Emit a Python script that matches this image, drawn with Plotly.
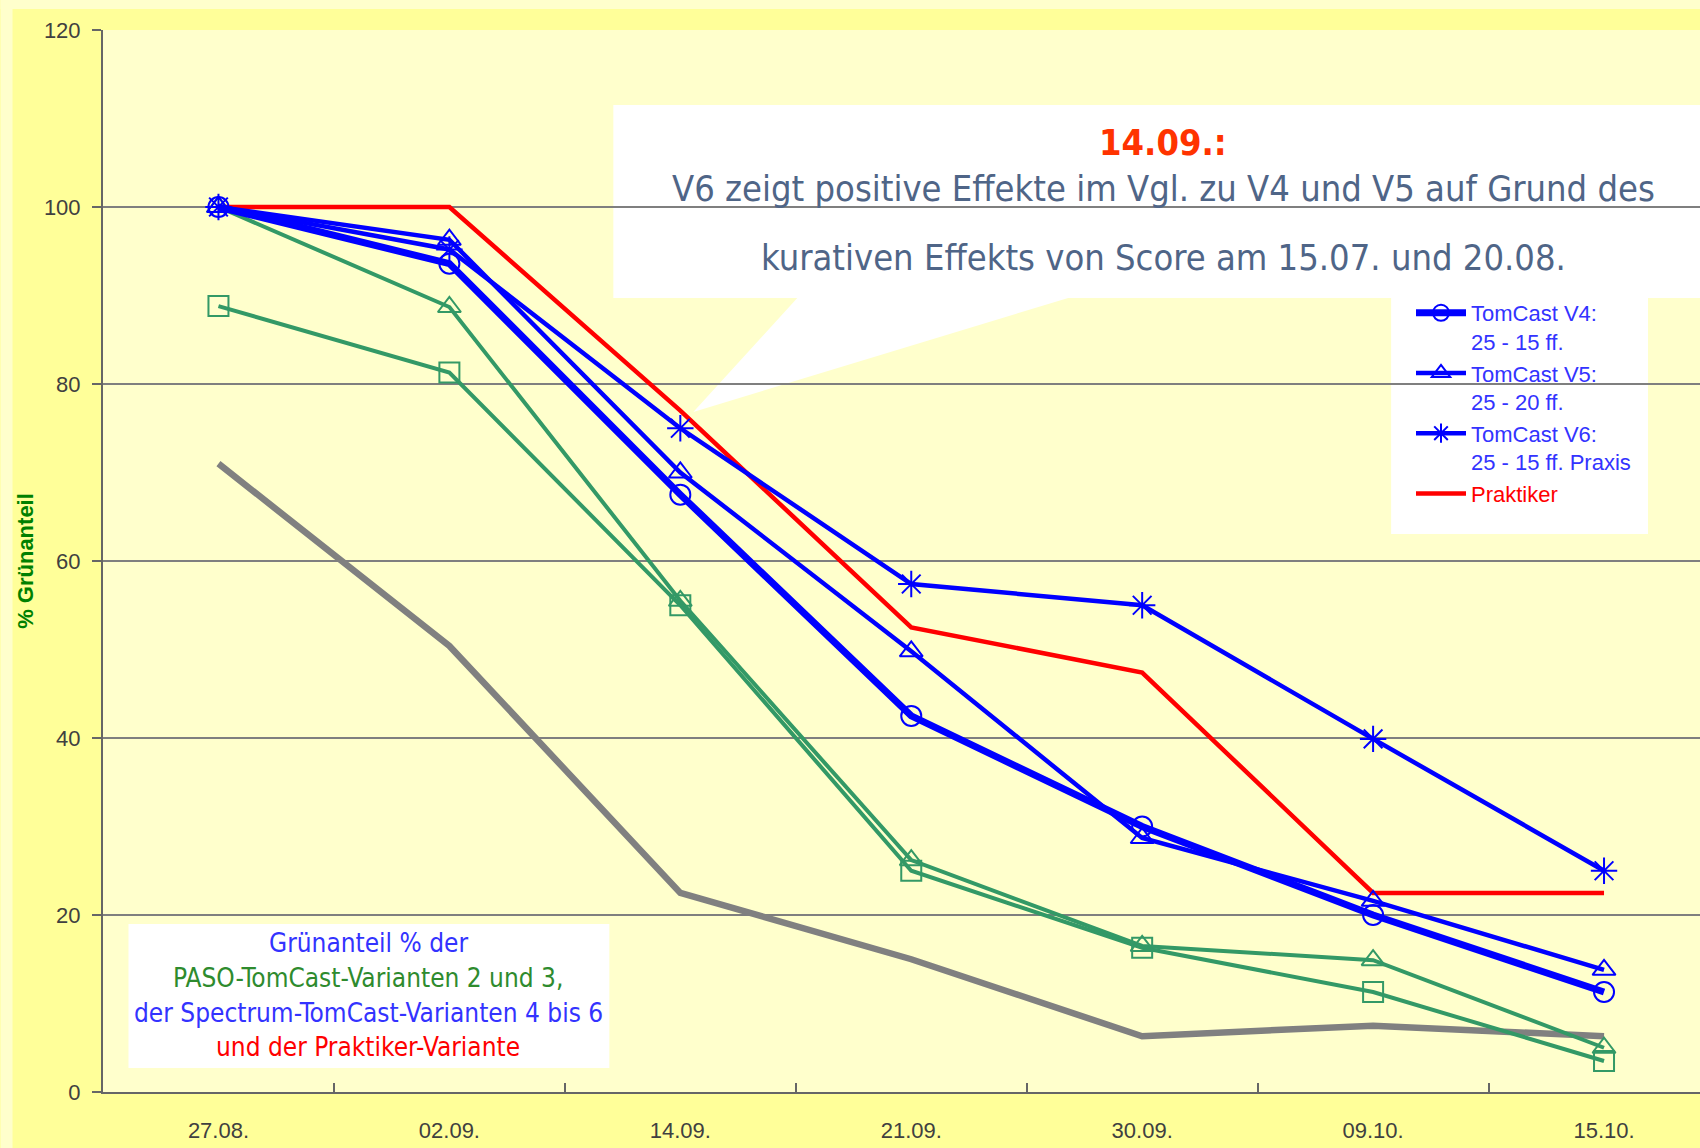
import plotly.graph_objects as go

# ---------------- data ----------------
categories = ["27.08.", "02.09.", "14.09.", "21.09.", "30.09.", "09.10.", "15.10."]
tomcast_v4 = [100, 93.6, 67.5, 42.5, 30.0, 20.0, 11.3]
tomcast_v5 = [100, 96.3, 70.0, 49.8, 28.7, 21.6, 13.8]
tomcast_v6 = [100, 95.2, 75.0, 57.4, 55.0, 39.9, 25.0]
praktiker = [100, 100, 77.0, 52.5, 47.4, 22.5, 22.5]
paso_v2 = [100, 88.7, 55.5, 26.2, 16.5, 14.9, 5.0]
paso_v3 = [88.8, 81.3, 55.0, 25.0, 16.3, 11.3, 3.5]
untreated = [71.0, 50.4, 22.5, 15.0, 6.3, 7.5, 6.3]

y_ticks = [0, 20, 40, 60, 80, 100, 120]

# ---------------- layout geometry (pixels) ----------------
W, H = 1700, 1148
L, T, B = 102.5, 30, 1092
R = W
band = 231.0

def px(x):
    return (x - L) / (R - L)

def py(y):
    return (B - y) / (B - T)

BLUE = "#0000FF"
RED = "#FF0000"
GREEN = "#339966"
GRAY = "#808080"
TICKFONT = "Liberation Sans Narrow, Arial Narrow, Liberation Sans, Arial, sans-serif"
COND = "DejaVu Sans Condensed, DejaVu Sans, sans-serif"

fig = go.Figure()

fig.add_trace(go.Scatter(x=categories, y=untreated, mode="lines",
                         line=dict(color=GRAY, width=6.5), showlegend=False))
fig.add_trace(go.Scatter(x=categories, y=paso_v3, mode="lines+markers",
                         line=dict(color=GREEN, width=4),
                         marker=dict(symbol="square-open", size=20, color=GREEN, line=dict(width=2)),
                         showlegend=False))
fig.add_trace(go.Scatter(x=categories, y=paso_v2, mode="lines+markers",
                         line=dict(color=GREEN, width=4),
                         marker=dict(symbol="triangle-up-open", size=20, color=GREEN, line=dict(width=2)),
                         showlegend=False))
fig.add_trace(go.Scatter(x=categories, y=praktiker, mode="lines",
                         line=dict(color=RED, width=4.5),
                         name="<span style='color:#FF0000'>Praktiker</span>"))
fig.add_trace(go.Scatter(x=categories, y=tomcast_v6, mode="lines+markers",
                         line=dict(color=BLUE, width=4.5),
                         marker=dict(symbol="asterisk-open", size=22, color=BLUE, line=dict(width=2)),
                         name="TomCast V6:<br>25 - 15 ff. Praxis"))
fig.add_trace(go.Scatter(x=categories, y=tomcast_v5, mode="lines+markers",
                         line=dict(color=BLUE, width=4.5),
                         marker=dict(symbol="triangle-up-open", size=20, color=BLUE, line=dict(width=2)),
                         name="TomCast V5:<br>25 - 20 ff."))
fig.add_trace(go.Scatter(x=categories, y=tomcast_v4, mode="lines+markers",
                         line=dict(color=BLUE, width=7),
                         marker=dict(symbol="circle-open", size=20, color=BLUE, line=dict(width=2)),
                         name="TomCast V4:<br>25 - 15 ff."))

shapes = []
# pale outer strips
shapes.append(dict(type="rect", xref="paper", yref="paper", layer="below",
                   x0=px(0), x1=px(12), y0=py(H), y1=py(0),
                   fillcolor="#FFFFCC", line=dict(width=0)))
shapes.append(dict(type="rect", xref="paper", yref="paper", layer="below",
                   x0=px(0), x1=px(W), y0=py(9), y1=py(0),
                   fillcolor="#FFFFCC", line=dict(width=0)))
# callout box with wedge
cx0, cx1, cy0, cy1 = 613, 1700, 105, 298
path = (f"M {px(cx0)},{py(cy0)} L {px(cx1)},{py(cy0)} L {px(cx1)},{py(cy1)} "
        f"L {px(1068)},{py(cy1)} L {px(693)},{py(412)} L {px(797)},{py(cy1)} "
        f"L {px(cx0)},{py(cy1)} Z")
shapes.append(dict(type="path", xref="paper", yref="paper", layer="between",
                   path=path, fillcolor="#FFFFFF", line=dict(width=0)))
# legend box
shapes.append(dict(type="rect", xref="paper", yref="paper", layer="between",
                   x0=px(1391), x1=px(1648), y0=py(534), y1=py(298),
                   fillcolor="#FFFFFF", line=dict(width=0)))
# lower-left text box
shapes.append(dict(type="rect", xref="paper", yref="paper", layer="between",
                   x0=px(128), x1=px(609), y0=py(1068), y1=py(924),
                   fillcolor="#FFFFFF", line=dict(width=0)))

annotations = []
def txt(text, x, y, size, color, bold=False, family=COND):
    annotations.append(dict(text=f"<b>{text}</b>" if bold else text,
                            xref="paper", yref="paper", x=px(x), y=py(y),
                            xanchor="center", yanchor="middle", showarrow=False,
                            font=dict(family=family, size=size, color=color)))

txt("14.09.:", 1163, 142, 36, "#FF3300", bold=True)
txt("V6 zeigt positive Effekte im Vgl. zu V4 und V5 auf Grund des", 1163, 188, 36, "#4F6587")
txt("kurativen Effekts von Score am 15.07. und 20.08.", 1163, 257, 36, "#4F6587")

txt("Grünanteil % der", 368, 943, 26, "#3333FF")
txt("PASO-TomCast-Varianten 2 und 3,", 368, 978, 26, "#2E8B2E")
txt("der Spectrum-TomCast-Varianten 4 bis 6", 368, 1013, 26, "#3333FF")
txt("und der Praktiker-Variante", 368, 1047, 26, "#FF0000")

fig.update_layout(
    width=W, height=H,
    margin=dict(l=L, r=0, t=T, b=H - B, autoexpand=False),
    paper_bgcolor="#FFFF99",
    plot_bgcolor="#FFFFCC",
    shapes=shapes,
    annotations=annotations,
    showlegend=True,
    legend=dict(xref="container", yref="container",
                x=1411 / W, y=1 - 292 / H, xanchor="left", yanchor="top",
                bgcolor="rgba(0,0,0,0)", borderwidth=0,
                font=dict(family="Liberation Sans, Arial, sans-serif", size=22, color="#3333FF"),
                traceorder="reversed", valign="top", itemwidth=50, tracegroupgap=0),
    xaxis=dict(type="category", categoryorder="array", categoryarray=categories,
               range=[-0.5, -0.5 + (R - L) / band],
               showgrid=False, showline=True, linecolor="#666666", linewidth=2,
               ticks="inside", ticklen=9, tickwidth=2, tickcolor="#666666",
               tickson="boundaries", ticklabelstandoff=18,
               tickfont=dict(family=TICKFONT, size=22, color="#404040")),
    yaxis=dict(range=[0, 120], tickvals=y_ticks,
               showgrid=True, gridcolor="#7F7F7F", gridwidth=1.5,
               zeroline=False, showline=True, linecolor="#666666", linewidth=2,
               ticks="outside", ticklen=9, tickwidth=2, tickcolor="#666666",
               ticklabelstandoff=7,
               tickfont=dict(family=TICKFONT, size=22, color="#404040")),
)
fig.update_yaxes(title=dict(text="<b>% Grünanteil</b>", standoff=4,
                            font=dict(family=TICKFONT, size=22, color="#008000")))

fig.write_html(
    "out.html",
    config={"displayModeBar": False},
    post_script="document.body.style.margin='0';document.body.style.background='#FFFFCC';"
)
